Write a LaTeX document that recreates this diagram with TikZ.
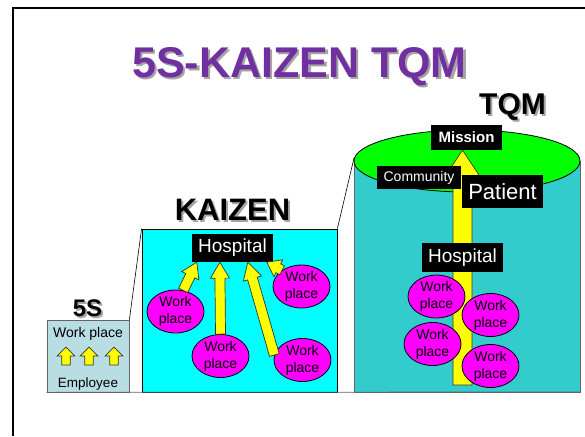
\documentclass[tikz,border=0pt]{standalone}
\usepackage{fontspec}
\setmainfont{Liberation Sans}
\usepackage{tikz}
\usetikzlibrary{
  shapes.geometric,
  calc,
  positioning
}
\definecolor{tqpurple}{RGB}{112,48,160}
\definecolor{tqshadow}{RGB}{165,165,165}
\definecolor{tqsteel}{RGB}{184,222,228}
\definecolor{tqcyan}{RGB}{0,255,255}
\definecolor{tqteal}{RGB}{51,204,204}
\definecolor{tqgreen}{RGB}{0,255,0}
\definecolor{tqmagenta}{RGB}{255,0,255}
\definecolor{tqyellow}{RGB}{255,255,0}
\definecolor{tqedge}{RGB}{100,100,100}

% block arrow: tail, tip, half shaft, half head, head length
\newcommand{\blockarrow}[5]{
  \coordinate (ba-tail) at (#1);
  \coordinate (ba-tip) at (#2);
  \coordinate (ba-neck) at ($(ba-tip)!#5!(ba-tail)$);
  \filldraw[arrowbody]
    ($(ba-tail)!#3!90:(ba-tip)$) -- ($(ba-neck)!#3!90:(ba-tip)$)
    -- ($(ba-neck)!#4!90:(ba-tip)$) -- (ba-tip)
    -- ($(ba-neck)!#4!-90:(ba-tip)$) -- ($(ba-neck)!#3!-90:(ba-tip)$)
    -- ($(ba-tail)!#3!-90:(ba-tip)$) -- cycle;
}

\begin{document}
\begin{tikzpicture}[
  x=1pt, y=-1pt,
  headline/.style={font=\fontsize{#1}{#1}\selectfont\bfseries, inner sep=0pt, anchor=base},
  plain/.style={font=\fontsize{#1}{#1}\selectfont, inner sep=0pt, anchor=base},
  tag/.style={fill=black, text=white, inner sep=0pt, font=\fontsize{#1}{#1}\selectfont},
  workplace/.style={ellipse, draw=black, line width=0.8pt, fill=tqmagenta, minimum width=57pt, minimum height=43pt,
    inner sep=0pt, align=center, font=\fontsize{14}{17}\selectfont},
  arrowbody/.style={draw=black!80, line width=0.7pt, fill=tqyellow, line join=miter},
  stagebox/.style={inner sep=0pt, line width=0.8pt}
]
  \useasboundingbox (0,0) rectangle (585,436);

  % slide frame
  \draw[line width=1.6pt] (13,436) -- (13,8) -- (585,8);

  % titles
  \node[headline=43, text=tqshadow] (title-sh) at (302,79.5) {5S-KAIZEN TQM};
  \node[headline=43, text=tqpurple] (title) at (299.5,77) {5S-KAIZEN TQM};

  \node[headline=24, text=tqshadow] (t5s-sh) at (89.5,318) {5S};
  \node[headline=24] (t5s) at (87.5,316) {5S};
  \node[headline=31, text=tqshadow] (tkz-sh) at (234.5,222) {KAIZEN};
  \node[headline=31] (tkz) at (232.5,220) {KAIZEN};
  \node[headline=30, text=tqshadow] (ttqm-sh) at (514.5,116) {TQM};
  \node[headline=30] (ttqm) at (512.5,114) {TQM};

  % stage boxes
  \node[stagebox, draw=tqedge, fill=tqsteel, minimum width=82pt, minimum height=72pt] (s5) at (88,356) {};
  \node[stagebox, draw=black, fill=tqcyan, minimum width=195pt, minimum height=163pt] (kz) at (239.5,310.5) {};
  \fill[tqteal] (354,161) rectangle (580,392);
  \draw[tqedge, line width=0.8pt] (354,161) -- (354,392) -- (580,392) -- (580,161);
  \draw[line width=0.8pt, fill=tqgreen] (467,161) ellipse [x radius=113, y radius=31];
  \coordinate (cyl-left) at (354,158);

  \draw[tqedge, line width=0.8pt] (s5.south west) -- (580,392);
  \draw[line width=0.6pt] (s5.north east) -- (kz.north west);
  \draw[line width=0.6pt] (kz.north east) -- (cyl-left);

  % 5S
  \node[plain=14] (s5-wp) at (88,337) {Work place};
  \node[plain=13.5] (s5-emp) at (88,387) {Employee};
  \foreach \x in {66,89,114} {
    \blockarrow{\x,365}{\x,347}{4.3pt}{8.8pt}{9pt}
  }

  % KAIZEN
  \node[tag=19, minimum width=81pt, minimum height=28pt] (hk) at (232.5,248) {Hospital};
  \node[workplace] (wk1) at (175.5,311.5) {Work\\place};
  \node[workplace] (wk2) at (220.5,356) {Work\\place};
  \node[workplace] (wk3) at (301.5,286.5) {Work\\place};
  \node[workplace] (wk4) at (302.5,360) {Work\\place};
  \blockarrow{wk1.70}{[xshift=5pt]hk.south west}{5pt}{9.5pt}{15pt}
  \blockarrow{wk2.north}{[xshift=28pt]hk.south west}{5pt}{9.5pt}{16pt}
  \blockarrow{wk4.170}{[xshift=56pt]hk.south west}{5pt}{9.5pt}{17pt}
  \blockarrow{wk3.140}{[xshift=75pt]hk.south west}{5pt}{9.5pt}{13pt}

  % TQM
  \node[tag=15, minimum width=71pt, minimum height=25pt] (ms) at (466.5,137.5) {\bfseries Mission};
  \coordinate (tq-base) at (462.5,385);
  \blockarrow{tq-base}{[xshift=-4pt]ms.south}{9.5pt}{18pt}{27pt}
  \node[workplace] (wt1) at (436.5,296.5) {Work\\place};
  \node[workplace] (wt2) at (490.5,315) {Work\\place};
  \node[workplace] (wt3) at (432.5,344) {Work\\place};
  \node[workplace] (wt4) at (490.5,366) {Work\\place};
  \node[tag=19, minimum width=81pt, minimum height=29pt] (ht) at (462.5,257.5) {Hospital};
  \node[tag=14, minimum width=84pt, minimum height=23pt] (cm) at (419,177.5) {Community};
  \node[tag=22, minimum width=81pt, minimum height=33pt] (pt) at (502.5,191.5) {Patient};
\end{tikzpicture}
\end{document}
